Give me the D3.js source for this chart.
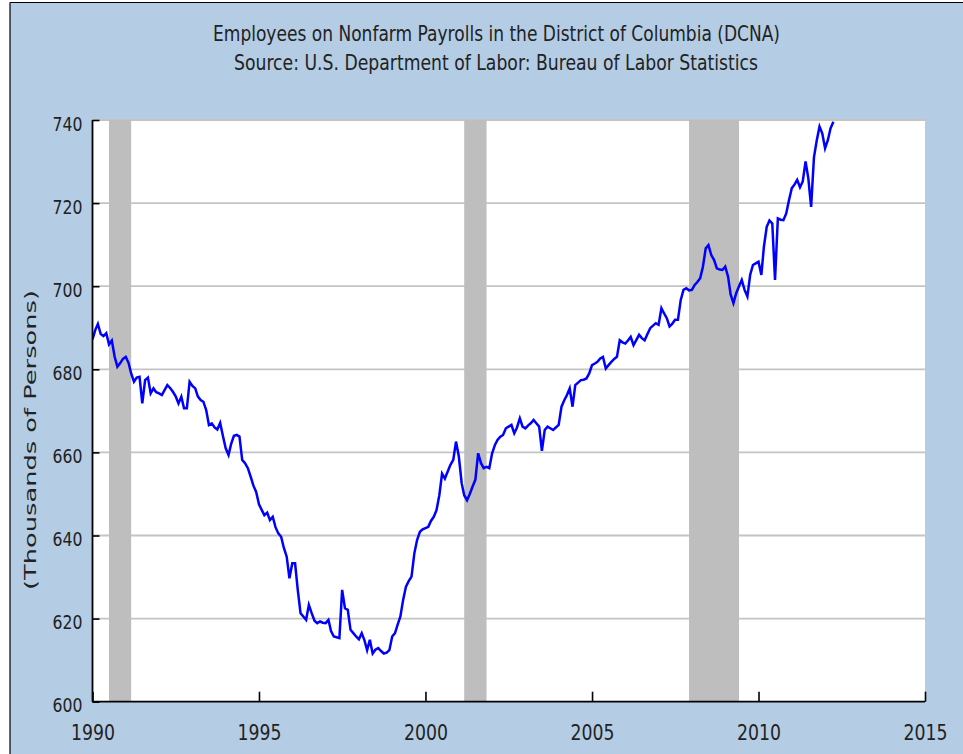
<!DOCTYPE html>
<html>
<head>
<meta charset="utf-8">
<script src="https://cdn.jsdelivr.net/npm/d3@7"></script>
<style>
  body { margin: 0; background: #fff; }
  text { font-family: "DejaVu Sans", sans-serif; fill: #222; }
</style>
</head>
<body>
<svg width="963" height="754"></svg>
<script>
const width = 963
const height = 754

const title = 'Employees on Nonfarm Payrolls in the District of Columbia (DCNA)'
const subtitle = 'Source: U.S. Department of Labor: Bureau of Labor Statistics'
const yLabel = '(Thousands of Persons)'

const firstMonth = '1990-01'
const yTicks = [600, 620, 640, 660, 680, 700, 720, 740]
const xTicks = [1990, 1995, 2000, 2005, 2010, 2015]
const recessionStarts = ['1990-07', '2001-03', '2007-12']
const recessionEnds = ['1991-03', '2001-11', '2009-06']

// monthly values, thousands of persons, one row per year
const payrolls = [
    687.2, 689.5, 690.9, 688.5, 688.0, 688.7, 686.0, 686.9, 683.0, 680.6, 681.5, 682.5, // 1990
    683.0, 681.5, 679.0, 677.0, 678.0, 678.2, 671.8, 677.4, 678.0, 674.2, 675.4, 674.5, // 1991
    674.2, 673.8, 675.0, 676.2, 675.5, 674.6, 673.5, 671.8, 673.4, 670.6, 670.6, 677.0, // 1992
    676.0, 675.4, 673.5, 672.6, 672.2, 670.2, 666.6, 667.0, 666.0, 665.5, 667.1, 664.0, // 1993
    661.0, 659.4, 662.0, 664.0, 664.2, 663.8, 658.2, 657.4, 656.2, 654.2, 652.0, 650.5, // 1994
    647.5, 646.1, 644.9, 645.5, 643.7, 644.5, 642.0, 640.5, 639.7, 637.0, 634.9, 629.7, // 1995
    633.3, 633.3, 627.0, 621.3, 620.5, 619.7, 623.3, 621.3, 619.5, 618.9, 619.3, 619.0, // 1996
    618.9, 619.7, 617.0, 615.7, 615.5, 615.3, 626.9, 622.5, 622.1, 617.3, 616.5, 615.7, // 1997
    615.0, 616.5, 614.9, 612.4, 614.9, 611.6, 612.5, 612.9, 612.2, 611.6, 611.8, 612.4, // 1998
    615.7, 616.5, 618.5, 620.5, 624.5, 627.7, 629.0, 630.1, 635.7, 638.9, 640.9, 641.5, // 1999
    641.8, 642.1, 643.5, 644.5, 646.1, 649.7, 654.9, 653.7, 655.4, 657.0, 658.2, 662.6, // 2000
    659.0, 652.6, 649.7, 648.5, 650.0, 651.8, 653.4, 659.8, 657.4, 656.2, 656.5, 656.2, // 2001
    659.8, 661.8, 663.0, 663.8, 664.2, 665.8, 666.2, 666.6, 664.6, 666.0, 668.2, 666.2, // 2002
    665.8, 666.5, 667.0, 667.8, 667.0, 666.2, 660.4, 665.4, 666.2, 665.8, 665.4, 666.0, // 2003
    666.6, 671.0, 672.5, 673.8, 675.4, 671.0, 676.2, 676.8, 677.4, 677.5, 677.8, 679.0, // 2004
    681.0, 681.4, 681.8, 682.6, 683.0, 680.2, 681.0, 681.8, 682.5, 683.0, 687.0, 686.5, // 2005
    686.2, 687.0, 687.8, 685.8, 687.0, 688.3, 687.5, 687.0, 688.5, 689.9, 690.5, 691.1, // 2006
    690.7, 694.7, 693.5, 692.3, 690.3, 691.0, 691.9, 691.9, 696.7, 699.1, 699.5, 699.0, // 2007
    699.1, 700.3, 701.0, 701.9, 704.7, 709.1, 709.9, 707.5, 706.3, 704.3, 704.0, 703.9, // 2008
    704.7, 702.3, 698.0, 695.9, 698.3, 700.0, 701.5, 699.1, 697.5, 702.7, 705.1, 705.5, // 2009
    705.9, 702.7, 709.5, 714.3, 715.8, 715.1, 701.5, 716.3, 716.0, 715.9, 717.5, 720.7, // 2010
    723.6, 724.5, 725.6, 723.8, 725.2, 730.0, 726.0, 719.1, 731.0, 735.0, 738.4, 736.8, // 2011
    733.2, 735.2, 738.0, 739.6                                                          // 2012
]

const parseMonth = d3.timeParse('%Y-%m')
const start = parseMonth(firstMonth)
const data = payrolls.map((v, i) => ({ date: d3.timeMonth.offset(start, i), value: v }))

const plot = { left: 92.5, right: 925, top: 120, bottom: 701.7 }

const x = d3.scaleTime()
    .domain([new Date(1990, 0, 1), new Date(2015, 0, 1)])
    .range([plot.left, plot.right])
const y = d3.scaleLinear()
    .domain([600, 740])
    .range([plot.bottom, plot.top])

const svg = d3.select('svg')

// frame + blue background
svg.append('rect')
    .attr('x', 10).attr('y', 2.5)
    .attr('width', width - 10).attr('height', height - 2.5)
    .attr('fill', '#b4cde4')
svg.append('line')
    .attr('x1', 10).attr('x2', width).attr('y1', 2.5).attr('y2', 2.5)
    .attr('stroke', '#000').attr('stroke-width', 1.2)
svg.append('line')
    .attr('x1', 10).attr('x2', 10).attr('y1', 2.5).attr('y2', height)
    .attr('stroke', '#000').attr('stroke-width', 1.2)

svg.append('rect')
    .attr('x', plot.left).attr('y', plot.top)
    .attr('width', plot.right - plot.left).attr('height', plot.bottom - plot.top)
    .attr('fill', '#fff')

// gridlines
svg.append('g')
    .selectAll('line')
    .data(yTicks.filter(d => d > 600))
    .enter()
    .append('line')
    .attr('x1', plot.left).attr('x2', plot.right)
    .attr('y1', d => y(d)).attr('y2', d => y(d))
    .attr('stroke', '#c4c4c4')
    .attr('stroke-width', 1.8)

// recession shading
svg.append('g')
    .selectAll('rect')
    .data(recessionStarts.map((s, i) => [parseMonth(s), parseMonth(recessionEnds[i])]))
    .enter()
    .append('rect')
    .attr('x', d => x(d[0]))
    .attr('width', d => x(d[1]) - x(d[0]))
    .attr('y', plot.top)
    .attr('height', plot.bottom - plot.top)
    .attr('fill', '#bebebe')

svg.append('clipPath').attr('id', 'clip')
    .append('rect')
    .attr('x', plot.left).attr('y', plot.top - 1)
    .attr('width', plot.right - plot.left).attr('height', plot.bottom - plot.top + 1)

const line = d3.line()
    .x(d => x(d.date))
    .y(d => y(d.value))

svg.append('path')
    .datum(data)
    .attr('clip-path', 'url(#clip)')
    .attr('fill', 'none')
    .attr('stroke', '#0000ff')
    .attr('stroke-width', 2.5)
    .attr('stroke-linejoin', 'miter')
    .attr('d', line)

// axes
const yAxis = d3.axisLeft(y)
    .tickValues(yTicks)
    .tickSize(-7)
    .tickPadding(10)
const xAxis = d3.axisBottom(x)
    .tickValues(xTicks.map(t => new Date(t, 0, 1)))
    .tickFormat(d3.timeFormat('%Y'))
    .tickSize(-10)
    .tickPadding(23)

const gy = svg.append('g')
    .attr('transform', `translate(${plot.left},0)`)
    .call(yAxis)
const gx = svg.append('g')
    .attr('transform', `translate(0,${plot.bottom})`)
    .call(xAxis)

for (const g of [gx, gy]) {
    g.select('.domain').attr('stroke', '#000').attr('stroke-width', 1.8)
    g.selectAll('.tick line').attr('stroke', '#000').attr('stroke-width', 1.6)
    g.selectAll('.tick text')
        .attr('fill', '#222')
        .attr('lengthAdjust', 'spacingAndGlyphs')
        .style('font-family', '"DejaVu Sans", sans-serif')
}
gy.select('.domain').attr('d', `M0,${plot.top}V${plot.bottom}`)
gx.select('.domain').attr('d', `M${plot.left},0H${plot.right}`)
gy.selectAll('.tick text')
    .attr('dy', '0.5em')
    .attr('textLength', 30)
    .style('font-size', '20px')
gx.selectAll('.tick text')
    .attr('textLength', 44)
    .style('font-size', '21px')

// titles
svg.append('text')
    .attr('x', 496.5).attr('y', 41)
    .attr('text-anchor', 'middle')
    .attr('textLength', 567).attr('lengthAdjust', 'spacingAndGlyphs')
    .style('font-size', '22px')
    .text(title)
svg.append('text')
    .attr('x', 496).attr('y', 70)
    .attr('text-anchor', 'middle')
    .attr('textLength', 524).attr('lengthAdjust', 'spacingAndGlyphs')
    .style('font-size', '22px')
    .text(subtitle)

svg.append('text')
    .attr('transform', 'translate(35.5,440) scale(0.65,1) rotate(-90)')
    .attr('text-anchor', 'middle')
    .attr('textLength', 300).attr('lengthAdjust', 'spacingAndGlyphs')
    .style('font-size', '25px')
    .text(yLabel)
</script>
</body>
</html>
